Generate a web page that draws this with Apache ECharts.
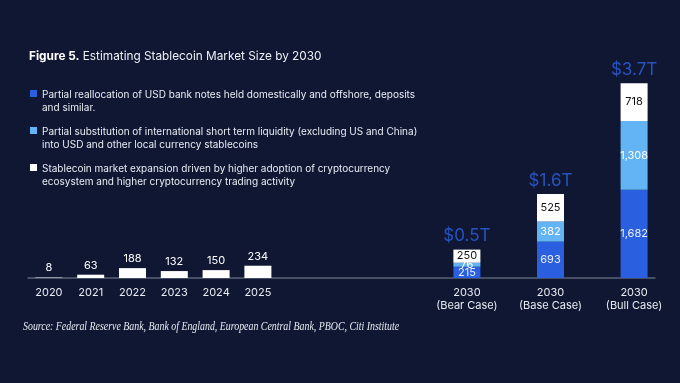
<!DOCTYPE html>
<html>
<head>
<meta charset="utf-8">
<style>
  html, body { margin: 0; padding: 0; background: #0f1733; }
  #chart { width: 680px; height: 383px; }
</style>
<script src="https://cdn.jsdelivr.net/npm/echarts@6/dist/echarts.min.js"></script>
</head>
<body>
<div id="chart"></div>
<script>
// categories: blanks leave the gap between history and the 2030 scenarios
var categories = ['2020', '2021', '2022', '2023', '2024', '2025', '', '', '', '',
  '2030\n(Bear Case)', '', '2030\n(Base Case)', '', '2030\n(Bull Case)'];

// historical market size ($bn)
var historyValues = [8, 63, 188, 132, 150, 234, '-', '-', '-', '-', '-', '-', '-', '-', '-'];

// 2030 scenario components ($bn)
var bankNotes = ['-', '-', '-', '-', '-', '-', '-', '-', '-', '-', 215, '-', 693, '-', 1682];
var liquidity = ['-', '-', '-', '-', '-', '-', '-', '-', '-', '-', 76, '-', 382, '-', 1308];
var expansion = ['-', '-', '-', '-', '-', '-', '-', '-', '-', '-', 250, '-', 525, '-', 718];
var totalLabels = ['', '', '', '', '', '', '', '', '', '', '$0.5T', '', '$1.6T', '', '$3.7T'];

var legendTexts = [
  'Partial reallocation of USD bank notes held domestically and offshore, deposits\nand similar.',
  'Partial substitution of international short term liquidity (excluding US and China)\ninto USD and other local currency stablecoins',
  'Stablecoin market expansion driven by higher adoption of cryptocurrency\necosystem and higher cryptocurrency trading activity'
];
var legendColors = ['#2a5fe0', '#62b4f5', '#ffffff'];

var FONT = 'Inter, "Noto Sans", sans-serif';

// totals sit on top of each stack, only for the 2030 bars
var totals = categories.map(function (c, i) {
  if (bankNotes[i] === '-') return '-';
  return bankNotes[i] + liquidity[i] + expansion[i];
});

function fmt(p) { return Number(p.value).toLocaleString('en-US'); }

var legendGraphics = [];
legendTexts.forEach(function (t, i) {
  var y = 88 + i * 37;
  legendGraphics.push({
    type: 'rect', left: 30, top: y + 2,
    shape: { width: 7, height: 7 },
    style: { fill: legendColors[i] }
  });
  legendGraphics.push({
    type: 'text', left: 42, top: y,
    style: { text: t, fill: '#e9ecf3', font: '10px ' + FONT, lineHeight: 13.3 }
  });
});

var chart = echarts.init(document.getElementById('chart'));
chart.setOption({
  backgroundColor: '#0f1733',
  animation: false,
  title: {
    text: '{b|Figure 5.} Estimating Stablecoin Market Size by 2030',
    left: 29, top: 50, padding: 0,
    textStyle: {
      color: '#eef0f5', fontSize: 11.8, fontWeight: 'normal', fontFamily: FONT,
      rich: { b: { color: '#ffffff', fontSize: 11.8, fontWeight: 'bold', fontFamily: FONT } }
    }
  },
  graphic: legendGraphics.concat([{
    type: 'text', left: 23, top: 320, scaleX: 0.79,
    style: {
      text: 'Source: Federal Reserve Bank, Bank of England, European Central Bank, PBOC, Citi Institute',
      fill: '#e9ecf3', font: 'italic 12.5px "Liberation Serif", "DejaVu Serif", serif'
    }
  }]),
  grid: { left: 28, right: 25, top: 68, bottom: 105 },
  xAxis: {
    type: 'category',
    data: categories,
    axisLine: { lineStyle: { color: '#5a6378', width: 1.5 } },
    axisTick: { show: false },
    axisLabel: {
      color: '#e9ecf3', fontSize: 11, fontFamily: FONT, margin: 8,
      interval: 0, lineHeight: 13
    }
  },
  yAxis: {
    type: 'value', min: 0, max: 4000,
    show: false, splitLine: { show: false }
  },
  series: [
    {
      name: 'history', type: 'bar', stack: 'total', barWidth: 27,
      data: historyValues,
      itemStyle: { color: '#ffffff' },
      label: { show: true, position: 'top', distance: 4, color: '#ffffff', fontSize: 11, fontFamily: FONT }
    },
    {
      name: legendTexts[0], type: 'bar', stack: 'total', barWidth: 27,
      data: bankNotes,
      itemStyle: { color: legendColors[0] },
      label: { show: true, position: 'inside', color: '#e8efff', fontSize: 11, fontFamily: FONT, formatter: fmt }
    },
    {
      name: legendTexts[1], type: 'bar', stack: 'total', barWidth: 27,
      data: liquidity,
      itemStyle: { color: legendColors[1] },
      label: { show: true, position: 'inside', color: '#ffffff', fontSize: 11, fontFamily: FONT, formatter: fmt }
    },
    {
      name: legendTexts[2], type: 'bar', stack: 'total', barWidth: 27,
      data: expansion,
      itemStyle: { color: legendColors[2] },
      label: { show: true, position: 'inside', color: '#111111', fontSize: 11, fontFamily: FONT, formatter: fmt }
    },
    {
      name: 'total', type: 'scatter', symbolSize: 0,
      data: totals,
      label: {
        show: true, position: 'top', distance: 5,
        color: '#2d62e3', fontSize: 17, fontFamily: FONT,
        formatter: function (p) { return totalLabels[p.dataIndex]; }
      }
    }
  ]
});
</script>
</body>
</html>
